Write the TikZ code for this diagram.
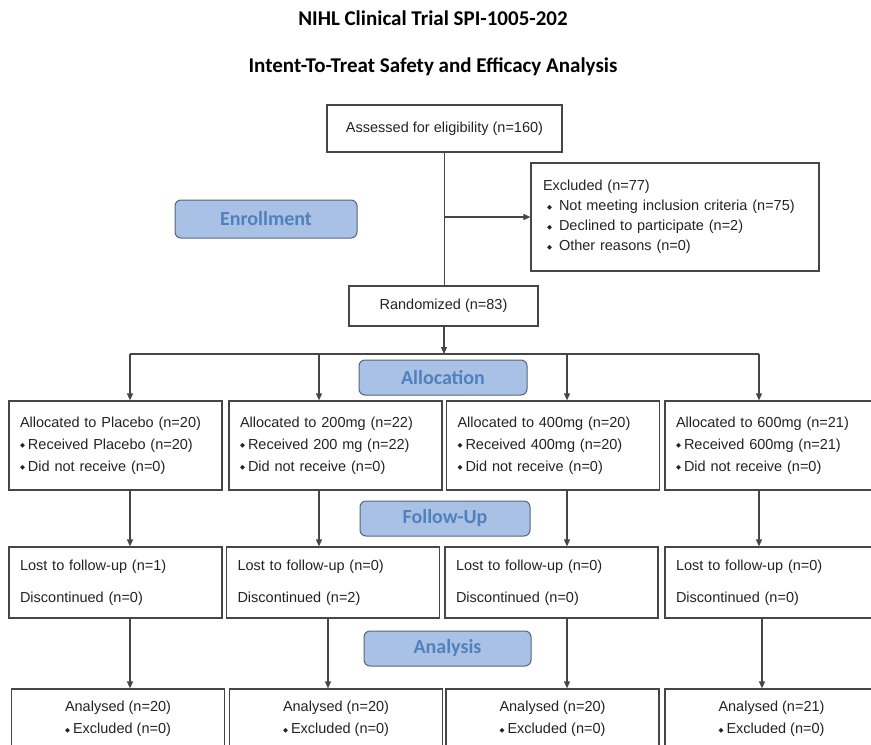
\documentclass[tikz,border=0pt]{standalone}
\usepackage{fontspec}
\setmainfont{Liberation Sans}
\newfontfamily\calfont{Carlito}
\newfontfamily\diafont{DejaVu Sans}
\usepackage{xcolor}
\usetikzlibrary{shapes,arrows,arrows.meta}
\usetikzlibrary{positioning}
\definecolor{linegray}{RGB}{70,70,70}
\definecolor{stagefill}{RGB}{170,193,230}
\definecolor{stagedraw}{RGB}{85,100,125}
\definecolor{stagetext}{RGB}{79,129,189}
\definecolor{boxtext}{RGB}{35,35,35}
\newcommand{\bul}{{\diafont\fontsize{6.5}{6.5}\selectfont\raisebox{1.5pt}{◆}}\hspace{3pt}}
\tikzstyle{title} = [text=black, font=\calfont\bfseries\fontsize{21}{21}\selectfont]
\tikzstyle{block} = [rectangle, draw=linegray, line width=1.2pt, text=boxtext,
    font=\fontsize{14.5}{22}\selectfont, align=center]
\tikzstyle{arm} = [block, text width=191pt, inner xsep=11pt, align=left, minimum height=89pt]
\tikzstyle{lost} = [arm, minimum height=71pt]
\tikzstyle{result} = [block, minimum width=213pt, minimum height=60pt]
\tikzstyle{stage} = [rectangle, rounded corners=6pt, draw=stagedraw, line width=1pt,
    fill=stagefill, text=stagetext, font=\calfont\bfseries\fontsize{20}{20}\selectfont, minimum height=35pt]
\tikzstyle{line} = [draw=linegray, line width=1.2pt, -{Triangle[length=7pt,width=6pt]}]
\tikzstyle{link} = [draw=linegray, line width=1.2pt]

\begin{document}
\begin{tikzpicture}[x=1pt,y=-1pt]
    \useasboundingbox (0,0) rectangle (871,745);
    % Place nodes
    \node[title] (title) at (433,18) {NIHL Clinical Trial SPI-1005-202};
    \node[title] (subtitle) at (433,67) {Intent-To-Treat Safety and Efficacy Analysis};
    \node[block, minimum width=235pt, minimum height=47pt] (assess) at (444.5,128.5) {Assessed for eligibility (n=160)};
    \node[block, text width=264pt, inner xsep=12pt, align=left, minimum height=108pt,
        font=\fontsize{14.5}{20}\selectfont] (excl) at (675,217) {Excluded (n=77)\\
        \hspace{4pt}\bul\hspace{4pt}Not meeting inclusion criteria (n=75)\\
        \hspace{4pt}\bul\hspace{4pt}Declined to participate (n=2)\\
        \hspace{4pt}\bul\hspace{4pt}Other reasons (n=0)};
    \node[block, minimum width=189pt, minimum height=40pt] (rand) at (443.5,306) {Randomized (n=83)};
    \node[stage, minimum width=182pt, minimum height=38pt] (enrol) at (266,219) {Enrollment};
    \node[stage, minimum width=168pt] (allocst) at (443,377.5) {Allocation};
    \node[stage, minimum width=170pt] (followst) at (445,518.5) {Follow-Up};
    \node[stage, minimum width=167pt] (analst) at (447.5,648.5) {Analysis};
    % allocation row
    \node[arm] (alloc1) at (115.5,445.5) {Allocated to Placebo (n=20)\\\bul Received Placebo (n=20)\\\bul Did not receive (n=0)};
    \node[arm] (alloc2) at (335.5,445.5) {Allocated to 200mg (n=22)\\\bul Received 200 mg (n=22)\\\bul Did not receive (n=0)};
    \node[arm] (alloc3) at (553,445.5) {Allocated to 400mg (n=20)\\\bul Received 400mg (n=20)\\\bul Did not receive (n=0)};
    \node[arm] (alloc4) at (771.5,445.5) {Allocated to 600mg (n=21)\\\bul Received 600mg (n=21)\\\bul Did not receive (n=0)};
    % follow-up row
    \node[lost] (lost1) at (115.5,582.5) {Lost to follow-up (n=1)\\[10pt]Discontinued (n=0)};
    \node[lost] (lost2) at (333,582.5) {Lost to follow-up (n=0)\\[10pt]Discontinued (n=2)};
    \node[lost] (lost3) at (551.5,582.5) {Lost to follow-up (n=0)\\[10pt]Discontinued (n=0)};
    \node[lost] (lost4) at (771.5,582.5) {Lost to follow-up (n=0)\\[10pt]Discontinued (n=0)};
    % analysis row
    \node[result] (res1) at (118,719) {Analysed (n=20)\\\bul Excluded (n=0)};
    \node[result] (res2) at (336,719) {Analysed (n=20)\\\bul Excluded (n=0)};
    \node[result] (res3) at (552.5,719) {Analysed (n=20)\\\bul Excluded (n=0)};
    \node[result] (res4) at (771.5,719) {Analysed (n=21)\\\bul Excluded (n=0)};
    % branch points
    \coordinate (split) at (444,354);
    \coordinate (c1) at (130,354);
    \coordinate (c2) at (319,354);
    \coordinate (c3) at (567,354);
    \coordinate (c4) at (759,354);
    \coordinate (d2) at (328,618);
    \coordinate (d4) at (762,618);
    % Draw edges
    \path [link] (assess.south) -- (assess.south |- rand.north);
    \path [line] (assess.south |- excl.west) -- (excl.west);
    \path [line] (rand.south -| split) -- (split);
    \path [link] (c1) -- (c4);
    \path [line] (c1) -- (alloc1.north -| c1);
    \path [line] (c2) -- (alloc2.north -| c2);
    \path [line] (c3) -- (alloc3.north -| c3);
    \path [line] (c4) -- (alloc4.north -| c4);
    \path [line] (alloc1.south -| c1) -- (lost1.north -| c1);
    \path [line] (alloc2.south -| c2) -- (lost2.north -| c2);
    \path [line] (alloc3.south -| c3) -- (lost3.north -| c3);
    \path [line] (alloc4.south -| c4) -- (lost4.north -| c4);
    \path [line] (lost1.south -| c1) -- (res1.north -| c1);
    \path [line] (lost2.south -| d2) -- (res2.north -| d2);
    \path [line] (lost3.south -| c3) -- (res3.north -| c3);
    \path [line] (lost4.south -| d4) -- (res4.north -| d4);
\end{tikzpicture}
\end{document}
